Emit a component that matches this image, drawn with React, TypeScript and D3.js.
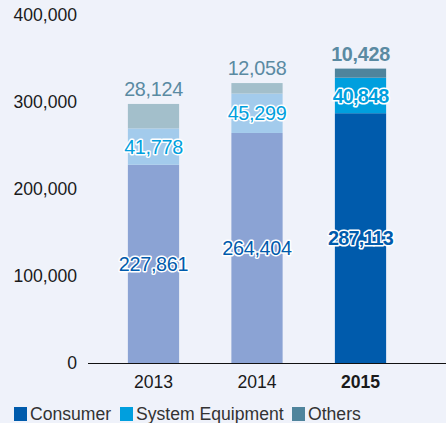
import React from "react";
import * as d3 from "d3";

const years = ["2013", "2014", "2015"];
const consumer = [227861, 264404, 287113];
const systemEquipment = [41778, 45299, 40848];
const others = [28124, 12058, 10428];
const yTicks = [0, 100000, 200000, 300000, 400000];
const seriesNames = ["Consumer", "System Equipment", "Others"];

const W = 446;
const H = 423;
const font = "'Liberation Sans', Arial, Helvetica, sans-serif";

const strongColors = ["#005BAC", "#009FDE", "#4F849C"];
const mutedColors = ["#8BA3D4", "#A3CBEC", "#A3BFCB"];
const labelColors = ["#005BAC", "#009FDE", "#5A8AA2"];

export default function App() {
  const y = d3.scaleLinear().domain([0, 400000]).range([363, 15]);
  const x = d3.scaleBand().domain(years).range([102, 412]).paddingInner(0.505).paddingOuter(0.25);
  const fmt = d3.format(",");
  const data = years.map((yr, i) => ({ year: yr, Consumer: consumer[i], "System Equipment": systemEquipment[i], Others: others[i] }));
  const stack = d3.stack<any>().keys(seriesNames);
  const layers = stack(data);

  return (
    <svg width={W} height={H} style={{ position: "absolute", left: 0, top: 0 }} fontFamily={font}>
      <rect width={W} height={H} fill="#EFF2FA" />
      {yTicks.map((t) => (
        <text key={t} x={77} y={y(t)} dy="0.36em" textAnchor="end" fontSize={17.6} fill="#1a1a1a">
          {fmt(t)}
        </text>
      ))}
      {layers.map((layer, li) =>
        layer.map((d, i) => {
          const last = i === years.length - 1;
          return (
            <rect
              key={li + "-" + i}
              x={x(years[i])}
              width={x.bandwidth()}
              y={y(d[1])}
              height={y(d[0]) - y(d[1])}
              fill={last ? strongColors[li] : mutedColors[li]}
            />
          );
        })
      )}
      <line x1={88} x2={446} y1={363.5} y2={363.5} stroke="#111" strokeWidth={1.2} />
      {layers.map((layer, li) =>
        layer.map((d, i) => {
          const last = i === years.length - 1;
          const cx = (x(years[i]) as number) + x.bandwidth() / 2;
          const val = d[1] - d[0];
          if (li < 2) {
            const cy = (y(d[0]) + y(d[1])) / 2;
            return (
              <text
                key={"l" + li + "-" + i}
                x={cx}
                y={cy}
                dy="0.36em"
                textAnchor="middle"
                fontSize={19.8}
                fontWeight={last ? "bold" : "normal"}
                fill={labelColors[li]}
                stroke="#fff"
                strokeWidth={3}
                paintOrder="stroke"
                strokeLinejoin="round"
                letterSpacing={last ? -0.8 : -0.3}
              >
                {fmt(val)}
              </text>
            );
          }
          return (
            <text
              key={"l" + li + "-" + i}
              x={cx}
              y={y(d[1]) - 15}
              dy="0.36em"
              textAnchor="middle"
              fontSize={19.8}
              fontWeight={last ? "bold" : "normal"}
              fill={labelColors[li]}
              letterSpacing={-0.3}
            >
              {fmt(val)}
            </text>
          );
        })
      )}
      {years.map((yr, i) => (
        <text
          key={yr}
          x={(x(yr) as number) + x.bandwidth() / 2}
          y={382}
          dy="0.36em"
          textAnchor="middle"
          fontSize={17.6}
          fontWeight={i === years.length - 1 ? "bold" : "normal"}
          fill="#1a1a1a"
        >
          {yr}
        </text>
      ))}
      {seriesNames.map((s, i) => {
        const xs = [14, 120, 292][i];
        return (
          <g key={s}>
            <rect x={xs} y={407} width={13} height={14} fill={strongColors[i]} />
            <text x={xs + 16} y={414} dy="0.36em" fontSize={17.6} fill="#333">
              {s}
            </text>
          </g>
        );
      })}
    </svg>
  );
}
